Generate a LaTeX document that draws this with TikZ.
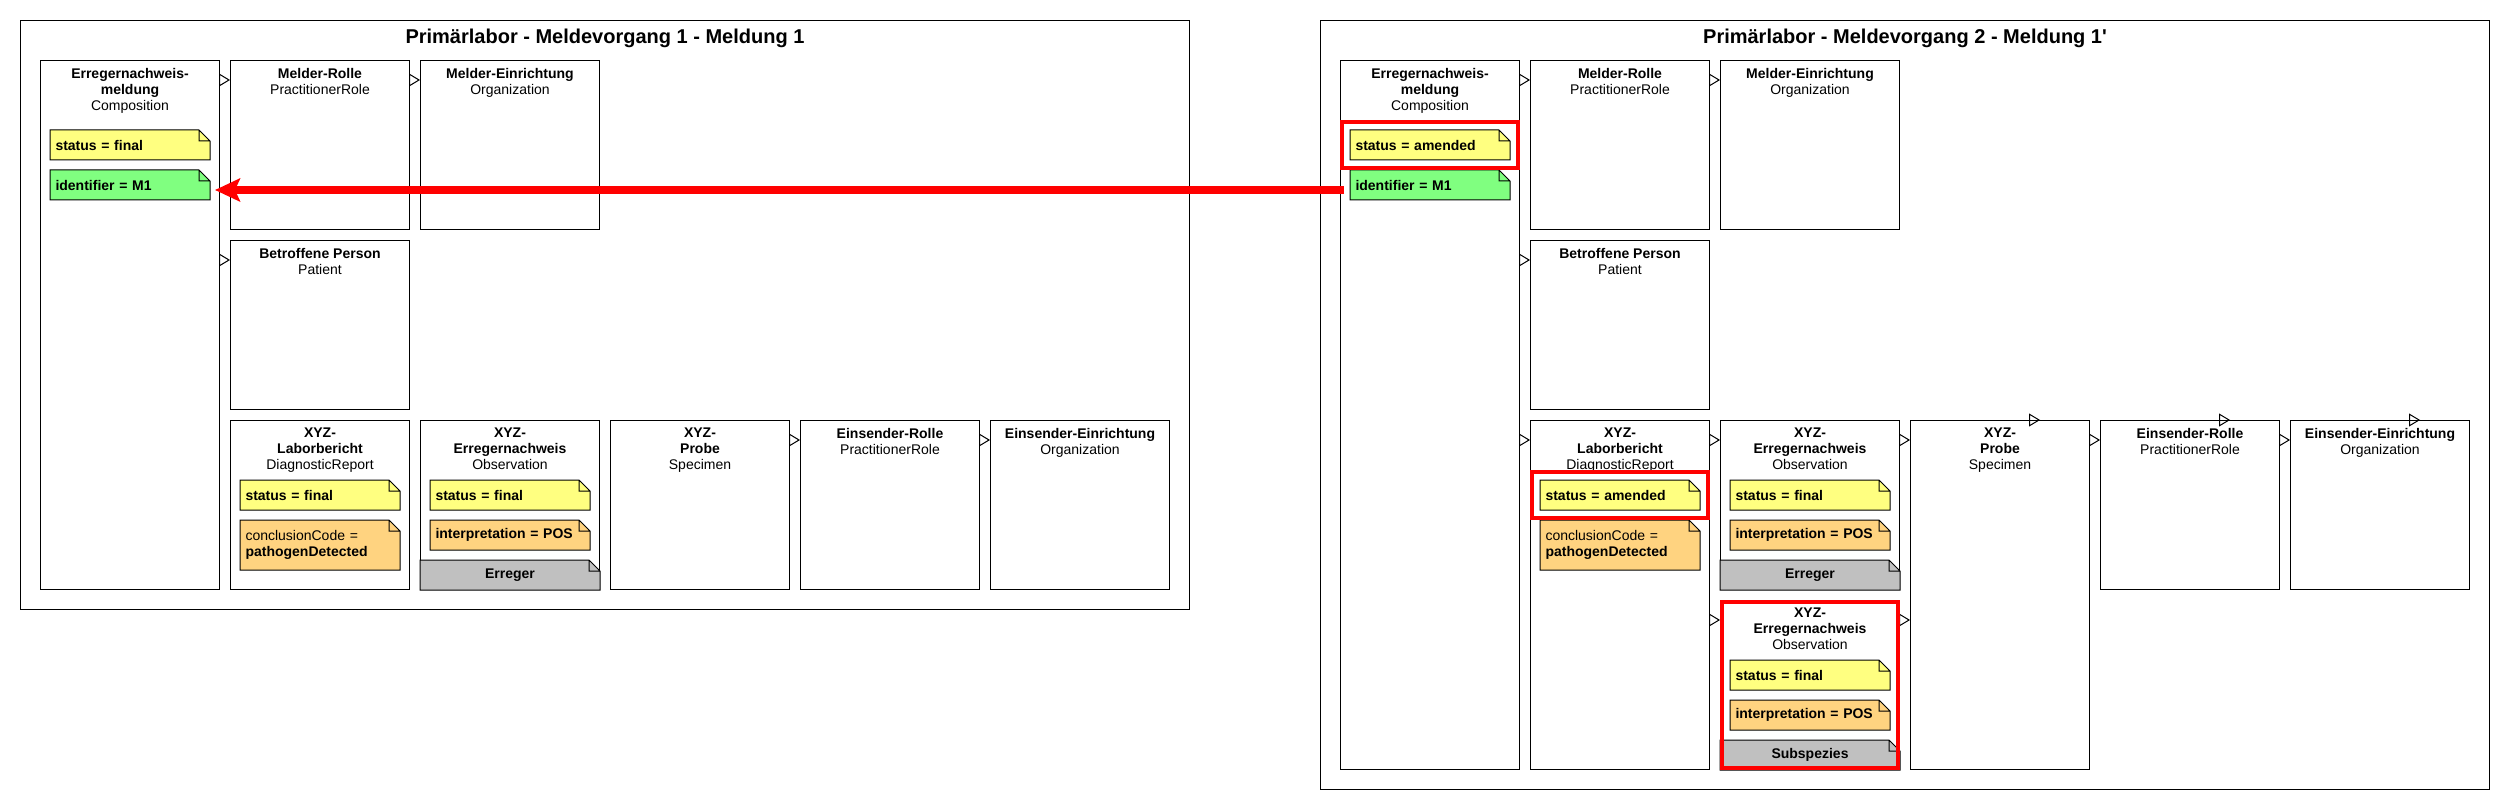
\documentclass[tikz,border=0pt]{standalone}
\usepackage{fontspec}
\setmainfont{Liberation Sans}
\usetikzlibrary{positioning,calc,arrows.meta}

\definecolor{noteyellow}{RGB}{255,255,128}
\definecolor{notegreen}{RGB}{128,255,128}
\definecolor{noteorange}{RGB}{255,211,128}
\definecolor{bandgray}{RGB}{192,192,192}

\tikzset{
  panel/.style={draw, line width=1pt, anchor=north west, minimum width=1169pt, inner sep=0pt},
  paneltitle/.style={anchor=base, inner sep=0pt, font=\fontsize{20}{24}\selectfont\bfseries},
  resbox/.style={draw, line width=1pt, anchor=north west, minimum width=179pt, minimum height=#1, inner sep=0pt},
  resbox/.default=169pt,
  resname/.style={inner sep=0pt, align=center, font=\fontsize{14}{16}\selectfont},
  dogear/.style={append after command={
    (\tikzlastnode.north west) -- ([xshift=-11pt]\tikzlastnode.north east)
    -- ([yshift=-11pt]\tikzlastnode.north east) -- (\tikzlastnode.south east)
    -- (\tikzlastnode.south west) -- cycle
    ([yshift=-11pt]\tikzlastnode.north east) -| ([xshift=-11pt]\tikzlastnode.north east)}},
  notefill/.style={draw, line width=1pt, fill=#1},
  notebox/.style={dogear, anchor=north west, inner xsep=5pt, inner ysep=0pt, text width=149pt,
    minimum height=#1, align=left, font=\fontsize{14}{16}\selectfont\bfseries},
  notebox/.default=29pt,
  bandbox/.style={dogear, anchor=south west, inner sep=0pt, minimum width=179pt, minimum height=29pt,
    font=\fontsize{14}{16}\selectfont\bfseries},
  gen/.style={line width=1pt, -{Triangle[open, length=11pt, width=13pt]}},
  redframe/.style={draw=red, line width=4pt},
  bigarrow/.style={draw=red, line width=8pt, -{Stealth[length=25pt, width=23pt, inset=5pt]}},
}

\begin{document}
\begin{tikzpicture}[x=1pt, y=-1pt]
\useasboundingbox (0,0) rectangle (2510,810);

% the two panels
\node[panel, minimum height=589pt] (panelA) at (20,20) {};
\node[panel, minimum height=769pt] (panelB) at (1320,20) {};
\node[paneltitle] (titleA) at ($(panelA.north)+(0,24)$) {Primärlabor - Meldevorgang 1 - Meldung 1};
\node[paneltitle] (titleB) at ($(panelB.north)+(0,24)$) {Primärlabor - Meldevorgang 2 - Meldung 1\textquotesingle};

% Meldung 1
\node[resbox=529pt] (compA) at (40,60) {};
\node[resname, below=8pt of compA.north] (compAn) {\textbf{Erregernachweis-}\\\textbf{meldung}\\Composition};
\node[resbox] (rolleA) at (230,60) {};
\node[resname, below=8pt of rolleA.north] (rolleAn) {\textbf{Melder-Rolle}\\PractitionerRole};
\node[resbox] (einrA) at (420,60) {};
\node[resname, below=8pt of einrA.north] (einrAn) {\textbf{Melder-Einrichtung}\\Organization};
\node[resbox] (persA) at (230,240) {};
\node[resname, below=8pt of persA.north] (persAn) {\textbf{Betroffene Person}\\Patient};
\node[resbox] (labA) at (230,420) {};
\node[resname, below=8pt of labA.north] (labAn) {\textbf{XYZ-}\\\textbf{Laborbericht}\\DiagnosticReport};
\node[resbox] (obsA) at (420,420) {};
\node[resname, below=8pt of obsA.north] (obsAn) {\textbf{XYZ-}\\\textbf{Erregernachweis}\\Observation};
\node[resbox] (probeA) at (610,420) {};
\node[resname, below=8pt of probeA.north] (probeAn) {\textbf{XYZ-}\\\textbf{Probe}\\Specimen};
\node[resbox] (esrA) at (800,420) {};
\node[resname, below=8pt of esrA.north] (esrAn) {\textbf{Einsender-Rolle}\\PractitionerRole};
\node[resbox] (eseA) at (990,420) {};
\node[resname, below=8pt of eseA.north] (eseAn) {\textbf{Einsender-Einrichtung}\\Organization};

\path[notefill=noteyellow] (50,130) node[notebox] (stA) {status = final};
\path[notefill=notegreen] (50,170) node[notebox] (idA) {identifier = M1};
\path[notefill=noteyellow] (240,480) node[notebox] (stLA) {status = final};
\path[notefill=noteorange] (240,520) node[notebox=49pt] (ccA) {{\mdseries conclusionCode =}\\pathogenDetected};
\path[notefill=noteyellow] (430,480) node[notebox] (stOA) {status = final};
\path[notefill=noteorange] (430,520) node[notebox] (ipA) {interpretation = POS};
\path[notefill=bandgray] (obsA.south west) node[bandbox] (errA) {Erreger};

\draw[gen] ($(compA.east |- rolleA.north)+(0,20)$) -- ($(rolleA.north west)+(0,20)$);
\draw[gen] ($(rolleA.east |- einrA.north)+(0,20)$) -- ($(einrA.north west)+(0,20)$);
\draw[gen] ($(compA.east |- persA.north)+(0,20)$) -- ($(persA.north west)+(0,20)$);
\draw[gen] ($(probeA.east |- esrA.north)+(0,20)$) -- ($(esrA.north west)+(0,20)$);
\draw[gen] ($(esrA.east |- eseA.north)+(0,20)$) -- ($(eseA.north west)+(0,20)$);

% Meldung 1'
\node[resbox=709pt] (compB) at (1340,60) {};
\node[resname, below=8pt of compB.north] (compBn) {\textbf{Erregernachweis-}\\\textbf{meldung}\\Composition};
\node[resbox] (rolleB) at (1530,60) {};
\node[resname, below=8pt of rolleB.north] (rolleBn) {\textbf{Melder-Rolle}\\PractitionerRole};
\node[resbox] (einrB) at (1720,60) {};
\node[resname, below=8pt of einrB.north] (einrBn) {\textbf{Melder-Einrichtung}\\Organization};
\node[resbox] (persB) at (1530,240) {};
\node[resname, below=8pt of persB.north] (persBn) {\textbf{Betroffene Person}\\Patient};
\node[resbox=349pt] (labB) at (1530,420) {};
\node[resname, below=8pt of labB.north] (labBn) {\textbf{XYZ-}\\\textbf{Laborbericht}\\DiagnosticReport};
\node[resbox] (obsB) at (1720,420) {};
\node[resname, below=8pt of obsB.north] (obsBn) {\textbf{XYZ-}\\\textbf{Erregernachweis}\\Observation};
\node[resbox] (obsC) at (1720,600) {};
\node[resname, below=8pt of obsC.north] (obsCn) {\textbf{XYZ-}\\\textbf{Erregernachweis}\\Observation};
\node[resbox=349pt] (probeB) at (1910,420) {};
\node[resname, below=8pt of probeB.north] (probeBn) {\textbf{XYZ-}\\\textbf{Probe}\\Specimen};
\node[resbox] (esrB) at (2100,420) {};
\node[resname, below=8pt of esrB.north] (esrBn) {\textbf{Einsender-Rolle}\\PractitionerRole};
\node[resbox] (eseB) at (2290,420) {};
\node[resname, below=8pt of eseB.north] (eseBn) {\textbf{Einsender-Einrichtung}\\Organization};

\path[notefill=noteyellow] (1350,130) node[notebox] (stB) {status = amended};
\path[notefill=notegreen] (1350,170) node[notebox] (idB) {identifier = M1};
\path[notefill=noteyellow] (1540,480) node[notebox] (stLB) {status = amended};
\path[notefill=noteorange] (1540,520) node[notebox=49pt] (ccB) {{\mdseries conclusionCode =}\\pathogenDetected};
\path[notefill=noteyellow] (1730,480) node[notebox] (stOB) {status = final};
\path[notefill=noteorange] (1730,520) node[notebox] (ipB) {interpretation = POS};
\path[notefill=bandgray] (obsB.south west) node[bandbox] (errB) {Erreger};
\path[notefill=noteyellow] (1730,660) node[notebox] (stOC) {status = final};
\path[notefill=noteorange] (1730,700) node[notebox] (ipC) {interpretation = POS};
\path[notefill=bandgray] (obsC.south west) node[bandbox] (subC) {Subspezies};

\draw[gen] ($(compB.east |- rolleB.north)+(0,20)$) -- ($(rolleB.north west)+(0,20)$);
\draw[gen] ($(rolleB.east |- einrB.north)+(0,20)$) -- ($(einrB.north west)+(0,20)$);
\draw[gen] ($(compB.east |- persB.north)+(0,20)$) -- ($(persB.north west)+(0,20)$);
\draw[gen] ($(compB.east |- labB.north)+(0,20)$) -- ($(labB.north west)+(0,20)$);
\draw[gen] ($(labB.east |- obsB.north)+(0,20)$) -- ($(obsB.north west)+(0,20)$);
\draw[gen] ($(labB.east |- obsC.north)+(0,20)$) -- ($(obsC.north west)+(0,20)$);
\draw[gen] ($(obsB.north east)+(0,20)$) -- ($(probeB.west |- obsB.north)+(0,20)$);
\draw[gen] ($(obsC.north east)+(0,20)$) -- ($(probeB.west |- obsC.north)+(0,20)$);
\draw[gen] ($(probeB.east |- esrB.north)+(0,20)$) -- ($(esrB.north west)+(0,20)$);
\draw[gen] ($(esrB.east |- eseB.north)+(0,20)$) -- ($(eseB.north west)+(0,20)$);
\draw[gen] ($(probeB.north west)+(119,0)$) -- ($(probeB.north west)+(130,0)$);
\draw[gen] ($(esrB.north west)+(119,0)$) -- ($(esrB.north west)+(130,0)$);
\draw[gen] ($(eseB.north west)+(119,0)$) -- ($(eseB.north west)+(130,0)$);

% changes
\draw[redframe] ($(stB.north west)+(-8,-8)$) rectangle ($(stB.south east)+(8,8)$);
\draw[redframe] ($(stLB.north west)+(-8,-8)$) rectangle ($(stLB.south east)+(8,8)$);
\draw[redframe] ($(obsC.north west)+(2,2)$) rectangle ($(obsC.south east)+(-2,-2)$);
\draw[bigarrow] ($(compB.west |- idB.west)+(4,5)$) -- ($(idA.east)+(5,5)$);
\end{tikzpicture}
\end{document}
